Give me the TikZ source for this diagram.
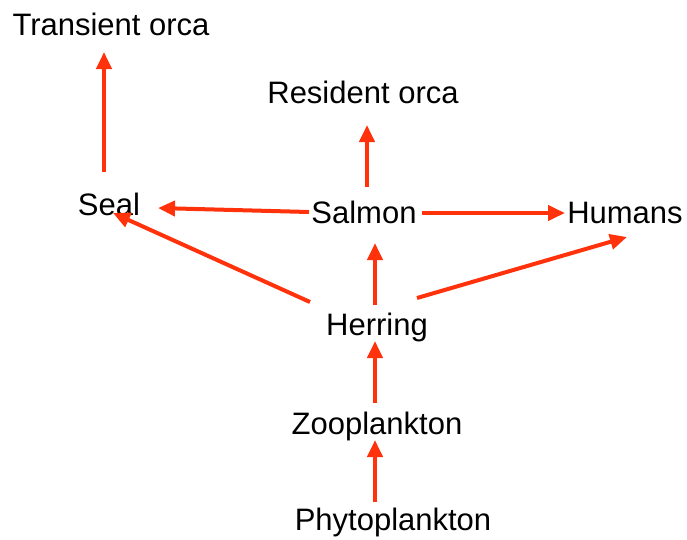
\documentclass[tikz,border=0pt]{standalone}
\usepackage{fontspec}
\setmainfont{Liberation Sans}
\usetikzlibrary{arrows.meta}
\definecolor{arrred}{RGB}{255,50,12}
\begin{document}
\begin{tikzpicture}[x=1pt,y=-1pt,
  lbl/.style={anchor=base,inner sep=0pt,font=\fontsize{31}{37}\selectfont},
  arr/.style={draw=arrred,line width=4pt,-{Triangle[length=17pt,width=15pt]}}]
\useasboundingbox[fill=white] (0,0) rectangle (687,539);
\node[lbl] (torca) at (111,35) {Transient orca};
\node[lbl] (rorca) at (363,103) {Resident orca};
\node[lbl] (seal) at (109,215) {Seal};
\node[lbl] (salmon) at (364,223) {Salmon};
\node[lbl] (humans) at (625,223) {Humans};
\node[lbl] (herring) at (377,335) {Herring};
\node[lbl] (zoo) at (377,434) {Zooplankton};
\node[lbl] (phyto) at (393,530) {Phytoplankton};
\draw[arr] ([shift={(-5,-43)}]seal.base) -- ([shift={(-7,17)}]torca.base);
\draw[arr] ([shift={(3,-36)}]salmon.base) -- ([shift={(4,22)}]rorca.base);
\draw[arr] ([shift={(-55,-11)}]salmon.base) -- ([shift={(49,-7)}]seal.base);
\draw[arr] ([shift={(58,-10)}]salmon.base) -- ([shift={(-60,-10)}]humans.base);
\draw[arr] ([shift={(-67,-33)}]herring.base) -- ([shift={(4,-2)}]seal.base);
\draw[arr] ([shift={(40,-37)}]herring.base) -- ([shift={(2,14)}]humans.base);
\draw[arr] ([shift={(-2,-30)}]herring.base) -- ([shift={(11,20)}]salmon.base);
\draw[arr] ([shift={(-2,-31)}]zoo.base) -- ([shift={(-2,6)}]herring.base);
\draw[arr] ([shift={(-18,-28)}]phyto.base) -- ([shift={(-2,6)}]zoo.base);
\end{tikzpicture}
\end{document}
